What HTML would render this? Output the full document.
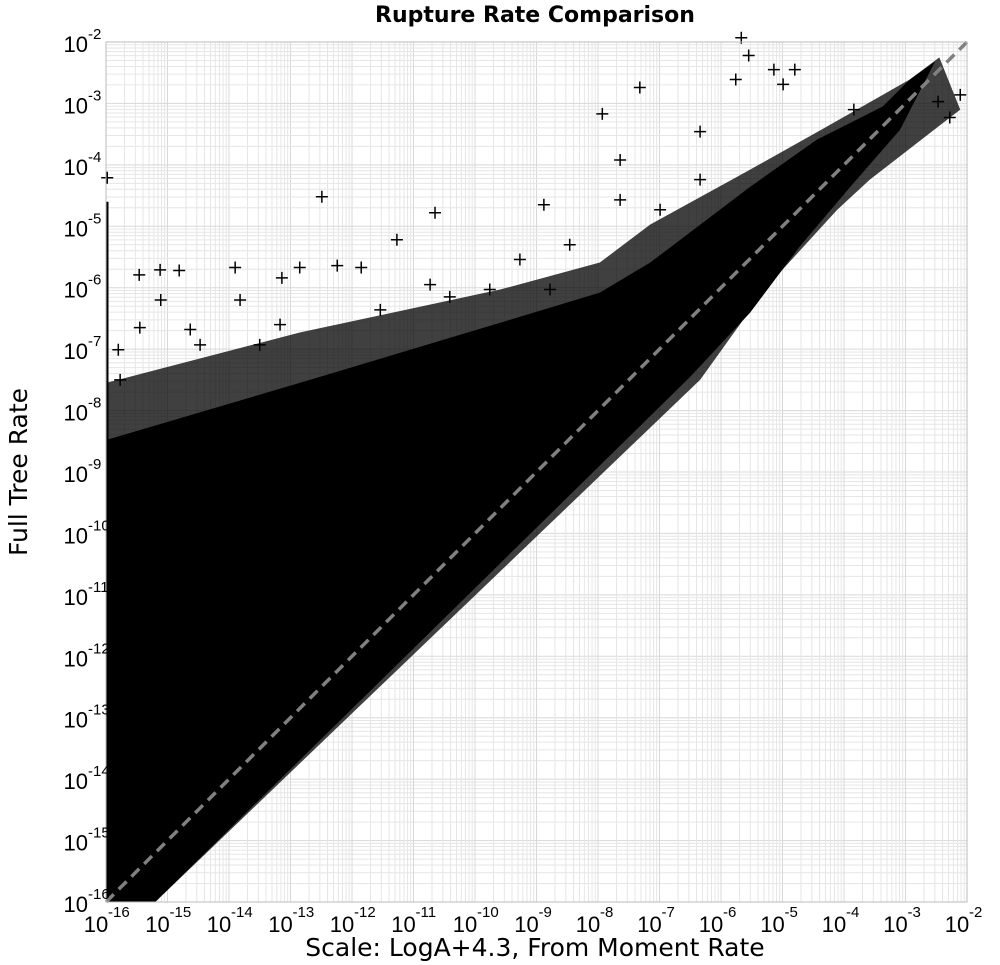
<!DOCTYPE html>
<html><head><meta charset="utf-8"><style>
html,body{margin:0;padding:0;background:#fff}
svg{display:block;font-family:"Liberation Sans",sans-serif}
</style></head><body>
<svg id="chart" width="1000" height="965" viewBox="0 0 1000 965">
<text x="535" y="22" text-anchor="middle" font-size="22" font-weight="bold" font-family="DejaVu Sans, Liberation Sans, sans-serif">Rupture Rate Comparison</text>
<text x="535" y="956" text-anchor="middle" font-size="25" font-family="DejaVu Sans, Liberation Sans, sans-serif">Scale: LogA+4.3, From Moment Rate</text>
<text transform="translate(27,472) rotate(-90)" text-anchor="middle" font-size="25" font-family="DejaVu Sans, Liberation Sans, sans-serif">Full Tree Rate</text>
<g id="grid"></g>
<g id="marks"></g>
<g id="axes"></g>
</svg>
<script>
const decades = [-16,-15,-14,-13,-12,-11,-10,-9,-8,-7,-6,-5,-4,-3,-2];
const tickLabels = ["-16","-15","-14","-13","-12","-11","-10","-9","-8","-7","-6","-5","-4","-3","-2"];
// dense core envelope (log10 x, log10 y)
const coreX = [-16,-12.85,-9.59,-7.97,-7.15,-5.53,-4.44,-3.37,-2.93,-2.52,-3.09,-3.90,-4.72,-5.53,-6.50,-15.2,-16];
const coreY = [-8.48,-7.55,-6.57,-6.08,-5.59,-4.36,-3.59,-3.05,-2.61,-2.32,-3.43,-4.36,-5.33,-6.41,-7.45,-16,-16];
// sparser fringe envelope
const fringeX = [-16,-12.85,-9.59,-7.97,-7.15,-5.53,-4.23,-2.93,-2.45,-2.11,-3.58,-4.11,-5.25,-6.34,-15.2,-16];
const fringeY = [-7.55,-6.73,-6.03,-5.59,-4.97,-4.08,-3.35,-2.61,-2.25,-3.10,-4.24,-4.73,-5.98,-7.50,-16,-16];
// individual outlier points (log10)
const outX = [-5.55,-5.67,-7.32,-7.93,-5.76,-5.14,-4.80,-4.99,-12.49,-10.65,-8.88,-15.98,-11.27,-15.46,-15.12,-14.81,-13.90,-12.85,-12.24,-11.85,-13.14,-15.11,-14.63,-13.82,-13.17,-15.45,-10.41,-9.76,-9.27,-8.46,-6.99,-6.34,-15.77,-14.47,-11.54,-10.73,-2.28,-2.11,-2.47,-3.98,-3.84,-7.64,-6.34,-15.80,-13.50,-8.78,-7.64];
const outY = [-2.22,-1.93,-2.74,-3.17,-2.61,-2.45,-2.45,-2.69,-4.52,-4.78,-4.65,-4.21,-5.22,-5.79,-5.71,-5.72,-5.67,-5.67,-5.64,-5.67,-5.84,-6.20,-6.68,-6.20,-6.60,-6.65,-6.15,-6.03,-5.54,-5.30,-4.73,-4.24,-7.50,-6.93,-6.36,-5.95,-3.23,-2.86,-2.97,-3.59,-3.10,-3.92,-3.46,-7.01,-6.93,-6.03,-4.57];

const L=106,R=967,T=42,B=902;
const lo=-16,hi=-2;
const sx=v=>L+(v-lo)/(hi-lo)*(R-L);
const sy=v=>B-(v-lo)/(hi-lo)*(B-T);
const NS="http://www.w3.org/2000/svg";
function mk(tag,attrs,parent){const e=document.createElementNS(NS,tag);for(const k in attrs)e.setAttribute(k,attrs[k]);parent.appendChild(e);return e;}
const grid=document.getElementById('grid'),marks=document.getElementById('marks'),axes=document.getElementById('axes');

mk('rect',{x:L,y:T,width:R-L,height:B-T,fill:'#fff'},grid);
for(let d=lo;d<hi;d++){for(let m=1;m<10;m++){const v=d+Math.log10(m);
 const gx=mk('line',{x1:sx(v),x2:sx(v),y1:T,y2:B,stroke:m===1?'#d8d8d8':'#e6e6e6','stroke-width':1},grid);
 
 
 const gy=mk('line',{x1:L,x2:R,y1:sy(v),y2:sy(v),stroke:m===1?'#d8d8d8':'#e6e6e6','stroke-width':1},grid);
 
 
}}

const fr=mk('polygon',{points:fringeX.map((x,i)=>sx(x)+','+sy(fringeY[i])).join(' '),fill:'#000','fill-opacity':0.75},marks);


const core=mk('polygon',{points:coreX.map((x,i)=>sx(x)+','+sy(coreY[i])).join(' '),fill:'#000'},marks);


const col=mk('line',{x1:sx(-16)+1,x2:sx(-16)+1,y1:sy(-4.6),y2:B,stroke:'#000','stroke-width':3},marks);


outX.forEach((x,i)=>{const cx=sx(x),cy=sy(outY[i]);
 const p=mk('path',{d:`M${cx-6},${cy}H${cx+6}M${cx},${cy-6}V${cy+6}`,stroke:'#000','stroke-width':1.5},marks);
 
 
});
const ref=mk('line',{x1:sx(lo),y1:sy(lo),x2:sx(hi),y2:sy(hi),stroke:'#808080','stroke-width':3.5,'stroke-dasharray':'11,7'},marks);



const fr2=mk('rect',{x:L,y:T,width:R-L,height:B-T,fill:'none',stroke:'#bbb','stroke-width':1},axes);


decades.forEach((d,i)=>{
 const ty=mk('text',{x:88,y:sy(d)+10,'text-anchor':'end','font-size':22},axes);
 
 
 ty.textContent='10';
 const sy1=mk('text',{x:88,y:sy(d)-3,'font-size':15},axes);
 sy1.textContent=tickLabels[i];
 const tx=mk('text',{x:sx(d)-10,y:932,'text-anchor':'middle','font-size':22},axes);
 
 
 tx.textContent='10';
 const sx1=mk('text',{x:sx(d)+2,y:917,'font-size':15},axes);
 sx1.textContent=tickLabels[i];
});
</script>
</body></html>
